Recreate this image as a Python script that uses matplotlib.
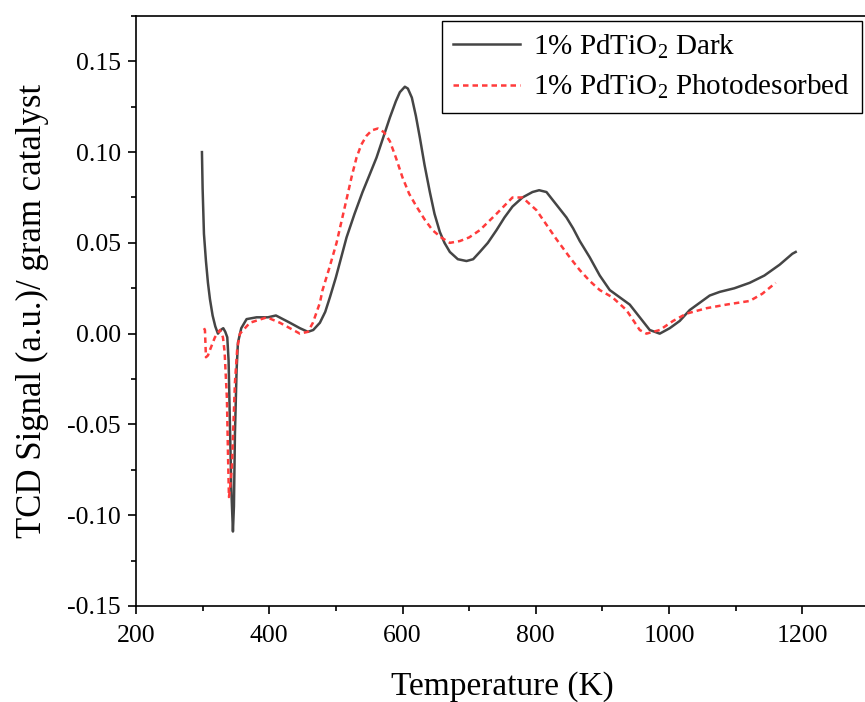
import matplotlib
matplotlib.use("Agg")
import matplotlib.pyplot as plt
from matplotlib.ticker import MultipleLocator

plt.rcParams["font.family"] = ["Liberation Serif", "DejaVu Serif"]
plt.rcParams["mathtext.fontset"] = "custom"
plt.rcParams["mathtext.rm"] = "Liberation Serif"
plt.rcParams["mathtext.default"] = "regular"

# TPD traces: temperature (K) and TCD signal per gram of catalyst
dark_T = [299, 300, 302, 305, 308, 311, 315, 319, 323, 327, 331, 334, 337, 339,
          341, 343, 345.5, 347, 348.5, 351, 353, 358, 366, 381, 398, 410, 431,
          446, 458, 466, 476, 484, 491, 500, 508, 516, 528, 540, 550, 561, 571,
          581, 590, 596, 603.5, 608, 614, 620, 626, 633, 641, 648, 656, 663, 671,
          683, 696, 706, 716, 728, 741, 753, 765, 780, 795, 805, 816, 831, 846,
          856, 866, 881, 896, 911, 926, 941, 956, 971, 986, 1001, 1016, 1031,
          1046, 1061, 1076, 1098, 1121, 1143, 1166, 1185, 1190]
dark_v = [0.100, 0.080, 0.055, 0.040, 0.028, 0.019, 0.010, 0.004, 0.000, 0.002,
          0.003, 0.001, -0.002, -0.015, -0.050, -0.085, -0.109, -0.095, -0.055,
          -0.020, -0.005, 0.003, 0.008, 0.009, 0.009, 0.010, 0.006, 0.003, 0.001,
          0.002, 0.006, 0.012, 0.020, 0.031, 0.042, 0.053, 0.066, 0.078, 0.087,
          0.097, 0.108, 0.119, 0.128, 0.133, 0.136, 0.135, 0.130, 0.120, 0.108,
          0.093, 0.078, 0.066, 0.056, 0.050, 0.045, 0.041, 0.040, 0.041, 0.045,
          0.050, 0.057, 0.064, 0.070, 0.075, 0.078, 0.079, 0.078, 0.071, 0.064,
          0.058, 0.051, 0.042, 0.032, 0.024, 0.020, 0.016, 0.009, 0.002, 0.000,
          0.003, 0.007, 0.013, 0.017, 0.021, 0.023, 0.025, 0.028, 0.032, 0.038,
          0.044, 0.045]

photo_T = [302, 303.5, 305, 308, 311, 318.5, 326, 330.5, 333, 336.5, 338, 339.5,
           341, 344, 348.5, 352, 356, 371, 396.5, 416, 431, 446, 458, 465.5,
           476, 480, 490, 501, 516, 524, 531, 538, 546, 554, 563, 572, 581, 590,
           600, 610, 621, 633, 645, 658, 671, 686, 700, 716, 741, 765, 780, 801,
           816, 831, 851, 866, 881, 896, 915, 936, 956, 966, 986, 1006, 1026,
           1056, 1086, 1121, 1140, 1150, 1160]
photo_v = [0.003, 0.002, -0.013, -0.012, -0.009, -0.002, 0.002, -0.002, -0.010,
           -0.036, -0.065, -0.090, -0.086, -0.073, -0.027, -0.008, 0.000, 0.006,
           0.009, 0.006, 0.003, 0.000, 0.001, 0.006, 0.017, 0.024, 0.036, 0.050,
           0.074, 0.087, 0.097, 0.104, 0.109, 0.112, 0.113, 0.111, 0.106, 0.097,
           0.086, 0.077, 0.070, 0.063, 0.057, 0.053, 0.050, 0.051, 0.053, 0.057,
           0.066, 0.075, 0.075, 0.068, 0.060, 0.052, 0.042, 0.035, 0.029, 0.024,
           0.020, 0.013, 0.002, 0.000, 0.002, 0.007, 0.011, 0.014, 0.016, 0.018,
           0.022, 0.025, 0.028]

series_labels = ["1% PdTiO$_2$ Dark", "1% PdTiO$_2$ Photodesorbed"]
x_ticks = [200, 400, 600, 800, 1000, 1200]
y_ticks = [-0.15, -0.10, -0.05, 0.00, 0.05, 0.10, 0.15]

fig = plt.figure(figsize=(8.65, 7.02), dpi=100)
ax = fig.add_axes([0.1572, 0.1368, 0.8474, 0.8405])

ax.plot(dark_T, dark_v, color="#454545", lw=1.8, label=series_labels[0])
ax.plot(photo_T, photo_v, color="#ff3b3b", lw=1.8, ls=(0, (2.2, 1.6)),
        label=series_labels[1])

ax.set_xlim(200, 1300)
ax.set_ylim(-0.15, 0.175)
ax.set_xticks(x_ticks)
ax.set_yticks(y_ticks)
ax.set_yticklabels([f"{v:.2f}" for v in y_ticks])
ax.xaxis.set_minor_locator(MultipleLocator(100))
ax.yaxis.set_minor_locator(MultipleLocator(0.025))
ax.tick_params(which="major", direction="out", length=6, width=1.2,
               labelsize=18.5)
ax.tick_params(axis="x", which="major", pad=8)
ax.tick_params(axis="y", which="major", pad=5)
ax.tick_params(which="minor", direction="out", length=3.5, width=1.2)
ax.tick_params(top=False, right=False, which="both")
for sp in ax.spines.values():
    sp.set_linewidth(1.2)

ax.set_xlabel("Temperature (K)", fontsize=24, labelpad=17)
ax.set_ylabel("TCD Signal (a.u.)/ gram catalyst", fontsize=25, labelpad=13)

leg = ax.legend(loc="upper right", bbox_to_anchor=(862 / 865, 1 - 21 / 702),
                bbox_transform=fig.transFigure, fontsize=21, frameon=True,
                fancybox=False, edgecolor="black", framealpha=1,
                borderpad=0.4, handlelength=2.3, handletextpad=0.45,
                labelspacing=0.42, borderaxespad=0)
leg.get_frame().set_linewidth(1.0)

fig.savefig("out.png", dpi=100)
